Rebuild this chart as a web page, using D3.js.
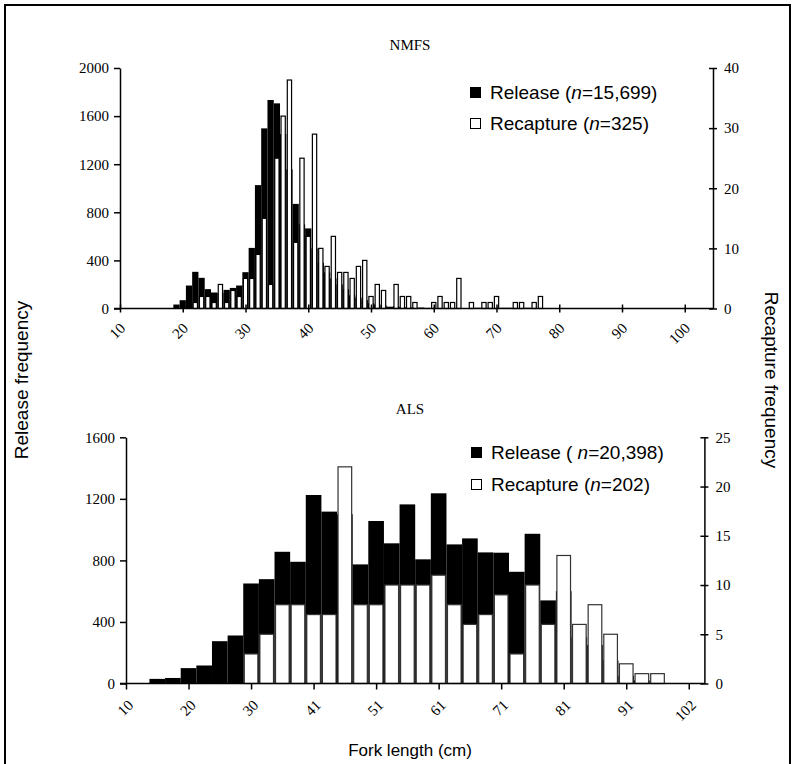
<!DOCTYPE html>
<html>
<head>
<meta charset="utf-8">
<script src="https://cdn.jsdelivr.net/npm/d3@7"></script>
<style>
  body { margin: 0; background: #fff; }
  .serif { font-family: "Liberation Serif", "Times New Roman", serif; font-size: 15px; }
  .sans { font-family: "Liberation Sans", Arial, sans-serif; font-size: 17px; }
  .legend text { font-size: 19px; }
  .ytitle { font-size: 19px; }
  .axis path, .axis line { stroke: #000; stroke-width: 1.5px; }
</style>
</head>
<body>
<svg id="chart" width="795" height="764"></svg>
<script>
// NMFS: 1 cm bins, 19..77 cm
var nmfsLength = d3.range(19, 78);
var nmfsRelease = [33, 69, 191, 305, 255, 161, 133, 130, 155, 171, 191, 302, 504, 1026, 1498, 1734, 1706,
    1450, 1157, 870, 700, 666, 500, 380, 300, 250, 200, 160, 110, 90, 70,
    45, 35, 25, 15, 20, 12, 10, 6, 8, 5, 4, 4, 3, 3, 3, 0, 2, 6, 2, 2, 2, 6, 6, 2, 2, 6, 2, 2];
var nmfsRecapture = [0, 0, 0, 1, 2, 2, 1, 4, 1, 3, 2, 5, 5, 9, 15, 4, 25,
    32, 38, 11, 25, 12, 29, 10, 7, 12, 6, 6, 5, 7, 8,
    2, 4, 3, 0, 4, 2, 2, 1, 0, 0, 1, 2, 1, 1, 5, 0, 1, 0, 1, 1, 2, 0, 0, 1, 1, 0, 1, 2];
var nmfsTicks = [10, 20, 30, 40, 50, 60, 70, 80, 90, 100];
var nmfsLeftTicks = [0, 400, 800, 1200, 1600, 2000];
var nmfsRightTicks = [0, 10, 20, 30, 40];

// ALS: 1 inch bins (index 0 = 4 in), labelled in cm
var alsBin = d3.range(0, 38);
var alsRelease = [0, 0, 30, 36, 100, 117, 275, 312, 650, 678, 856, 791, 1225, 1117, 1100, 774, 1056, 911, 1164,
    807, 1236, 904, 943, 852, 850, 726, 973, 540, 600, 300, 250, 150, 50, 20, 5, 0, 0, 0];
var alsRecapture = [0, 0, 0, 0, 0, 0, 0, 0, 3, 5, 8, 8, 7, 7, 22, 8, 8, 10, 10,
    10, 11, 8, 6, 7, 9, 3, 10, 6, 13, 6, 8, 5, 2, 1, 1, 0, 0, 0];
var alsTickIndex = [0, 4, 8, 12, 16, 20, 24, 28, 32, 36];
var alsTickLabels = ["10", "20", "30", "41", "51", "61", "71", "81", "91", "102"];
var alsLeftTicks = [0, 400, 800, 1200, 1600];
var alsRightTicks = [0, 5, 10, 15, 20, 25];

var svg = d3.select("#chart");

// frame
svg.append("rect")
    .attr("x", 5).attr("y", 5)
    .attr("width", 785).attr("height", 770)
    .attr("fill", "none").attr("stroke", "#000").attr("stroke-width", 2);

function drawPanel(p) {
    var g = svg.append("g");
    var step = p.x(1) - p.x(0);

    var data = p.cats.map(function (c, i) {
        return {c: c, rel: p.release[i], rec: p.recapture[i]};
    });

    // release (black)
    g.selectAll("rect.rel").data(data.filter(function (d) { return d.rel > 0; }))
        .enter().append("rect")
        .attr("class", "rel")
        .attr("x", function (d) { return p.x(d.c) - step / 2; })
        .attr("width", step)
        .attr("y", function (d) { return p.yL(d.rel); })
        .attr("height", function (d) { return p.yL(0) - p.yL(d.rel); })
        .attr("fill", "#000");

    // recapture (white, outlined)
    g.selectAll("rect.rec").data(data.filter(function (d) { return d.rec > 0; }))
        .enter().append("rect")
        .attr("class", "rec")
        .attr("x", function (d) { return p.x(d.c) - step / 2 + 1; })
        .attr("width", step - 2)
        .attr("y", function (d) { return p.yR(d.rec); })
        .attr("height", function (d) { return p.yR(0) - p.yR(d.rec); })
        .attr("fill", "#fff")
        .attr("stroke", p.outline)
        .attr("stroke-width", 1.2);

    var x0 = p.x.range()[0], x1 = p.x.range()[1];

    // left axis
    g.append("g").attr("class", "axis")
        .attr("transform", "translate(" + x0 + ",0)")
        .call(d3.axisLeft(p.yL).tickValues(p.leftTicks).tickSize(6).tickSizeOuter(0).tickPadding(5)
            .tickFormat(d3.format("d")));

    // right axis, ticks cross the line
    var gR = g.append("g").attr("class", "axis")
        .attr("transform", "translate(" + x1 + ",0)")
        .call(d3.axisRight(p.yR).tickValues(p.rightTicks).tickSize(4).tickSizeOuter(0).tickPadding(7));
    gR.selectAll(".tick line").attr("x1", -4).attr("x2", 4);

    // bottom axis
    var gX = g.append("g").attr("class", "axis")
        .attr("transform", "translate(0," + p.yL(0) + ")")
        .call(d3.axisBottom(p.x).tickValues(p.xTicks).tickSize(p.tickDown).tickSizeOuter(0)
            .tickFormat(function (d, i) { return p.xLabels[i]; }));
    gX.select(".domain").attr("d", "M" + (x0 - 6) + ",0H" + x1);
    gX.selectAll(".tick line").attr("y1", -p.tickUp);
    gX.selectAll(".tick text")
        .attr("x", 0).attr("y", 0).attr("dy", "0.35em")
        .attr("text-anchor", "end")
        .attr("transform", "translate(" + p.labelDx + "," + p.labelDy + ") rotate(-45)");

    g.selectAll(".axis text").attr("fill", "#000")
        .style("font-size", "15px")
        .style("font-family", '"Liberation Serif", "Times New Roman", serif');

    // title
    g.append("text").attr("class", "serif")
        .attr("x", p.titleX).attr("y", p.titleY)
        .attr("text-anchor", "middle")
        .text(p.title);

    // legend
    var leg = g.append("g").attr("class", "legend")
        .attr("transform", "translate(" + p.legX + "," + p.legY + ")");
    p.legend.forEach(function (l, i) {
        var row = leg.append("g").attr("transform", "translate(0," + i * p.legGap + ")");
        row.append("rect")
            .attr("x", 0.5).attr("y", -11.5).attr("width", 10).attr("height", 10)
            .attr("fill", l.fill).attr("stroke", "#000").attr("stroke-width", 1);
        var t = row.append("text").attr("class", "sans").attr("x", 20).attr("y", 0);
        t.append("tspan").text(l.pre);
        t.append("tspan").style("font-style", "italic").text("n");
        t.append("tspan").text(l.post);
    });
}

drawPanel({
    cats: nmfsLength, release: nmfsRelease, recapture: nmfsRecapture,
    x: d3.scaleLinear().domain([10, 104.5]).range([120, 713]),
    yL: d3.scaleLinear().domain([0, 2000]).range([308.5, 68]),
    yR: d3.scaleLinear().domain([0, 40]).range([308.5, 68]),
    leftTicks: nmfsLeftTicks, rightTicks: nmfsRightTicks,
    xTicks: nmfsTicks, xLabels: nmfsTicks.map(String),
    tickUp: 4, tickDown: 4, labelDx: 2, labelDy: 17,
    outline: "#000",
    title: "NMFS", titleX: 410, titleY: 50,
    legX: 470, legY: 99, legGap: 31,
    legend: [
        {fill: "#000", pre: "Release (", post: "=15,699)"},
        {fill: "#fff", pre: "Recapture (", post: "=325)"}
    ]
});

drawPanel({
    cats: alsBin, release: alsRelease, recapture: alsRecapture,
    x: d3.scaleLinear().domain([0, 37]).range([126, 704.4]),
    yL: d3.scaleLinear().domain([0, 1600]).range([683.5, 437.3]),
    yR: d3.scaleLinear().domain([0, 25]).range([683.5, 437.3]),
    leftTicks: alsLeftTicks, rightTicks: alsRightTicks,
    xTicks: alsTickIndex, xLabels: alsTickLabels,
    tickUp: 0, tickDown: 6, labelDx: 4, labelDy: 19,
    outline: "#333",
    title: "ALS", titleX: 410, titleY: 414,
    legX: 471, legY: 459, legGap: 32,
    legend: [
        {fill: "#000", pre: "Release ( ", post: "=20,398)"},
        {fill: "#fff", pre: "Recapture (", post: "=202)"}
    ]
});

// axis titles
svg.append("text").attr("class", "sans ytitle")
    .attr("transform", "translate(28,380) rotate(-90)")
    .attr("text-anchor", "middle")
    .text("Release frequency");

svg.append("text").attr("class", "sans ytitle")
    .attr("transform", "translate(765,380) rotate(90)")
    .attr("text-anchor", "middle")
    .text("Recapture frequency");

svg.append("text").attr("class", "sans")
    .attr("x", 410).attr("y", 756)
    .attr("text-anchor", "middle")
    .text("Fork length (cm)");
</script>
</body>
</html>
